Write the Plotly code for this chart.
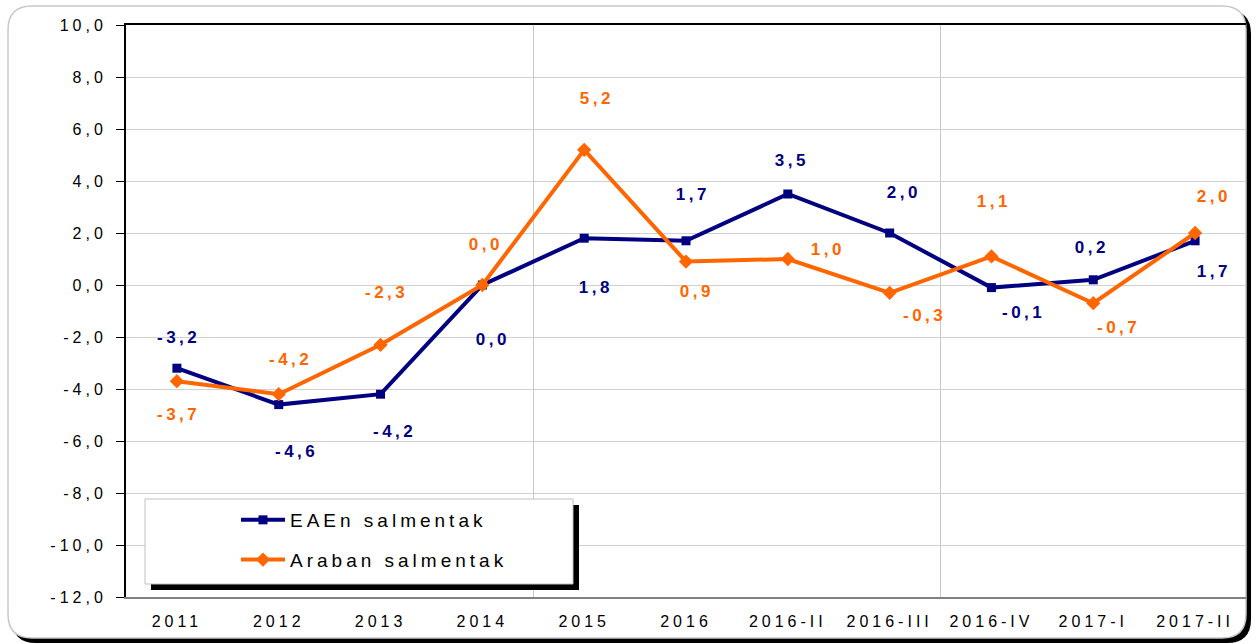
import plotly.graph_objects as go

categories = ["2011", "2012", "2013", "2014", "2015", "2016", "2016-II", "2016-III",
              "2016-IV", "2017-I", "2017-II"]
eae_values = [-3.2, -4.6, -4.2, 0.0, 1.8, 1.7, 3.5, 2.0, -0.1, 0.2, 1.7]
araba_values = [-3.7, -4.2, -2.3, 0.0, 5.2, 0.9, 1.0, -0.3, 1.1, -0.7, 2.0]
eae_name = "EAEn salmentak"
araba_name = "Araban salmentak"
y_ticks = [10, 8, 6, 4, 2, 0, -2, -4, -6, -8, -10, -12]

# label offsets (pixels) - layout only
eae_off = [(0, 31), (16, -47), (12, -37), (9, -54), (10, -49), (5, 46), (2, 34),
           (12, 41), (30, -25), (-3, 32), (17, -31)]
araba_off = [(0, -33), (10, 35), (4, 52), (2, 41), (11, 51), (9, -30), (38, 10),
             (33, -23), (1, 55), (23, -24), (17, 37)]

NAVY = "#000080"
ORANGE = "#FF6600"
W, H = 1257, 643
ML, MR, MT, MB = 126, 11, 25, 46
PW, PH = W - ML - MR, H - MT - MB


def fmt(v):
    return f"{v:.1f}".replace(".", ",")


def px(x):
    return (x - ML) / PW


def py(y):
    return (H - MB - y) / PH


x_idx = list(range(len(categories)))

fig = go.Figure()
fig.add_trace(go.Scatter(x=x_idx, y=eae_values, name=eae_name, mode="lines+markers",
                         line=dict(color=NAVY, width=4),
                         marker=dict(symbol="square", size=9, color=NAVY),
                         legendgroup="a"))
fig.add_trace(go.Scatter(x=x_idx, y=araba_values, name=araba_name, mode="lines+markers",
                         line=dict(color=ORANGE, width=4),
                         marker=dict(symbol="diamond", size=11, color=ORANGE),
                         legendgroup="b"))
# invisible trace carrying the top axis / category gridlines
fig.add_trace(go.Scatter(x=[x_idx[0]], y=[eae_values[0]], xaxis="x2", mode="markers",
                         marker=dict(opacity=0), showlegend=False, hoverinfo="skip"))

annotations = []
for vals, offs, col in ((eae_values, eae_off, NAVY), (araba_values, araba_off, ORANGE)):
    for i, v in enumerate(vals):
        annotations.append(dict(x=x_idx[i], y=v, xref="x", yref="y", text=fmt(v),
                                showarrow=False, xshift=offs[i][0] + 2, yshift=offs[i][1],
                                font=dict(family="Liberation Sans, Arial", size=17,
                                          color=col, weight="bold")))


def rrect(x0, y0, x1, y1, r):
    return (f"M {px(x0 + r)},{py(y0)} L {px(x1 - r)},{py(y0)} "
            f"Q {px(x1)},{py(y0)} {px(x1)},{py(y0 + r)} "
            f"L {px(x1)},{py(y1 - r)} Q {px(x1)},{py(y1)} {px(x1 - r)},{py(y1)} "
            f"L {px(x0 + r)},{py(y1)} Q {px(x0)},{py(y1)} {px(x0)},{py(y1 - r)} "
            f"L {px(x0)},{py(y0 + r)} Q {px(x0)},{py(y0)} {px(x0 + r)},{py(y0)} Z")


shapes = [
    dict(type="path", xref="paper", yref="paper", path=rrect(12, 10, 1251, 643, 24),
         fillcolor="black", line=dict(width=0), layer="below"),
    dict(type="path", xref="paper", yref="paper", path=rrect(8, 6, 1246, 638, 24),
         fillcolor="white", line=dict(color="#C8C8C8", width=1.5), layer="below"),
    # legend box with shadow
    dict(type="rect", xref="paper", yref="paper", x0=px(151), x1=px(579), y0=py(505), y1=py(590),
         fillcolor="black", line=dict(width=0), layer="above"),
    dict(type="rect", xref="paper", yref="paper", x0=px(145), x1=px(573), y0=py(499), y1=py(584),
         fillcolor="white", line=dict(color="#C0C0C0", width=1), layer="above"),
]

tick_font = dict(family="Liberation Sans, Arial", size=16, color="black")

fig.update_layout(
    width=W, height=H,
    margin=dict(l=ML, r=MR, t=MT, b=MB, pad=0),
    paper_bgcolor="white", plot_bgcolor="rgba(0,0,0,0)",
    showlegend=True,
    legend=dict(x=px(236), y=py(501), xanchor="left", yanchor="top",
                bgcolor="rgba(0,0,0,0)", borderwidth=0, itemwidth=44,
                font=dict(family="Liberation Sans, Arial", size=19, color="black"),
                traceorder="grouped", tracegroupgap=12),
    xaxis=dict(range=[-0.5, 10.5], tickvals=x_idx, ticktext=categories,
               showgrid=False, zeroline=False, showline=True, linecolor="#808080",
               linewidth=1.5, ticks="", tickfont=tick_font, ticklabelstandoff=9,
               fixedrange=True),
    xaxis2=dict(range=[-0.5, 10.5], overlaying="x", side="top", tick0=-0.5, dtick=4,
                showgrid=True, gridcolor="#C8C8C8", gridwidth=1, showticklabels=False,
                ticks="", showline=True, linecolor="black", linewidth=1.5, zeroline=False),
    yaxis=dict(range=[-12, 10], tickvals=y_ticks, ticktext=[fmt(v) for v in y_ticks],
               showgrid=True, gridcolor="#D0D0D0", gridwidth=1, zeroline=False,
               showline=True, linecolor="black", linewidth=2, ticks="outside", ticklen=8,
               tickcolor="black", tickfont=tick_font, ticklabelstandoff=6),
    annotations=annotations,
    shapes=shapes,
)

style_js = (
    "var s=document.createElement('style');"
    "s.textContent='html,body{margin:0;padding:0;overflow:hidden;}"
    " .main-svg text{letter-spacing:4px;}"
    " .main-svg .annotation-text{letter-spacing:3.5px;}"
    " .main-svg .legend .scrollbox, .main-svg .legend g{clip-path:none !important;}';"
    "document.head.appendChild(s);"
)

fig.write_html("out.html", post_script=style_js, config={"displayModeBar": False})
